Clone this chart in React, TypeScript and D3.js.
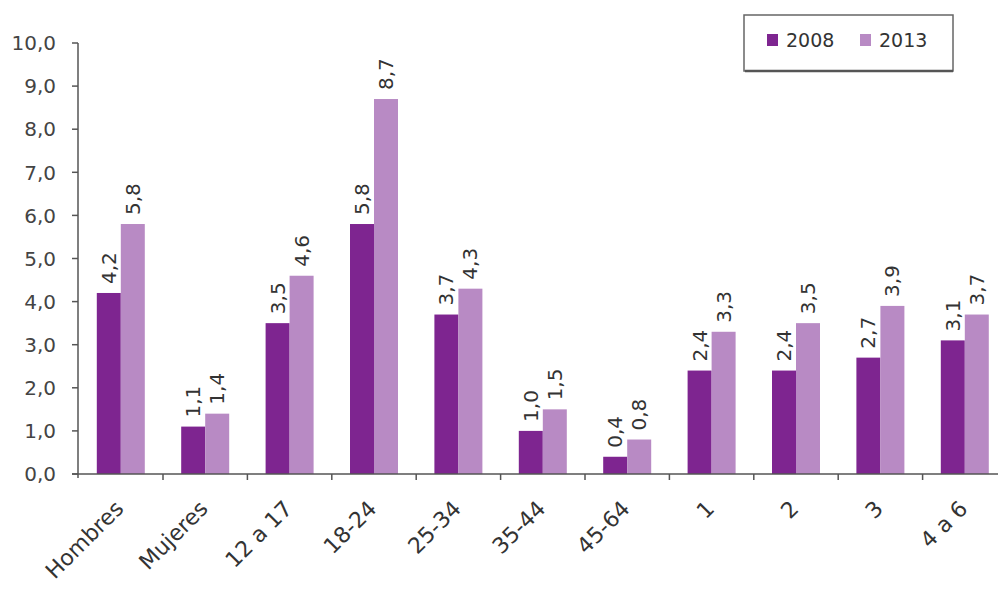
import React from "react";
import * as d3 from "d3";

const categories = ["Hombres", "Mujeres", "12 a 17", "18-24", "25-34", "35-44", "45-64", "1", "2", "3", "4 a 6"];
const series = ["2008", "2013"];
const values2008 = [4.2, 1.1, 3.5, 5.8, 3.7, 1.0, 0.4, 2.4, 2.4, 2.7, 3.1];
const values2013 = [5.8, 1.4, 4.6, 8.7, 4.3, 1.5, 0.8, 3.3, 3.5, 3.9, 3.7];
const yTicks = [0, 1, 2, 3, 4, 5, 6, 7, 8, 9, 10];

const colors: Record<string, string> = { "2008": "#7e2590", "2013": "#b88ac4" };
const FONT = "DejaVu Sans";

const fmt = (v: number) => v.toFixed(1).replace(".", ",");

export default function App() {
  const W = 998, H = 592;
  const y = d3.scaleLinear().domain([0, 10]).range([474, 43]);
  const x = d3.scaleBand<string>().domain(categories).range([78.6, 1007]).paddingInner(0).paddingOuter(0);
  const bw = x.bandwidth();
  const groupW = 48;
  const x1 = d3.scaleBand<string>().domain(series).range([(bw - groupW) / 2, (bw + groupW) / 2]).padding(0);
  const data = categories.map((c, i) => ({ c, vals: [values2008[i], values2013[i]] }));
  const axisColor = "#555";

  return (
    <svg width={W} height={H} style={{ position: "absolute", left: 0, top: 0, background: "#fff" }} fontFamily={FONT}>
      {/* bars */}
      {data.map((d) => (
        <g key={d.c} transform={`translate(${x(d.c)},0)`}>
          {series.map((s, j) => {
            const v = d.vals[j];
            const bx = x1(s)!;
            const cx = bx + x1.bandwidth() / 2;
            return (
              <g key={s}>
                <rect x={bx} y={y(v)} width={x1.bandwidth()} height={y(0) - y(v)} fill={colors[s]} />
                <text
                  transform={`translate(${cx + 7},${y(v) - 9}) rotate(-90)`}
                  fontSize={20}
                  fill="#333"
                  textAnchor="start"
                >
                  {fmt(v)}
                </text>
              </g>
            );
          })}
        </g>
      ))}
      {/* y axis */}
      <line x1={78} x2={78} y1={y(10)} y2={y(0) + 4} stroke={axisColor} strokeWidth={1.5} />
      {yTicks.map((t) => (
        <g key={t}>
          <line x1={72} x2={78} y1={y(t)} y2={y(t)} stroke={axisColor} strokeWidth={1.5} />
          <text x={56} y={y(t)} dy="0.36em" textAnchor="end" fontSize={20} fill="#444">
            {fmt(t)}
          </text>
        </g>
      ))}
      {/* x axis */}
      <line x1={72} x2={W} y1={y(0)} y2={y(0)} stroke={axisColor} strokeWidth={1.5} />
      {categories.map((c, i) =>
        i === 0 ? null : (
          <line key={c} x1={x(c)} x2={x(c)} y1={y(0)} y2={y(0) + 6} stroke={axisColor} strokeWidth={1.5} />
        )
      )}
      {categories.map((c) => (
        <text
          key={c}
          transform={`translate(${x(c)! + bw / 2 + 4},${y(0) + 36}) rotate(-45)`}
          textAnchor="end"
          fontSize={22}
          fill="#333"
        >
          {c}
        </text>
      ))}
      {/* legend */}
      <rect x={744} y={15} width={209} height={56} fill="#fff" stroke="#666" strokeWidth={1.5} />
      <line x1={745} x2={953} y1={71} y2={71} stroke="#555" strokeWidth={2.5} />
      {series.map((s, i) => (
        <g key={s} transform={`translate(${767 + i * 93},0)`}>
          <rect x={0} y={34} width={11} height={12} fill={colors[s]} />
          <text x={19} y={40} dy="0.36em" fontSize={19} fill="#333">
            {s}
          </text>
        </g>
      ))}
    </svg>
  );
}
